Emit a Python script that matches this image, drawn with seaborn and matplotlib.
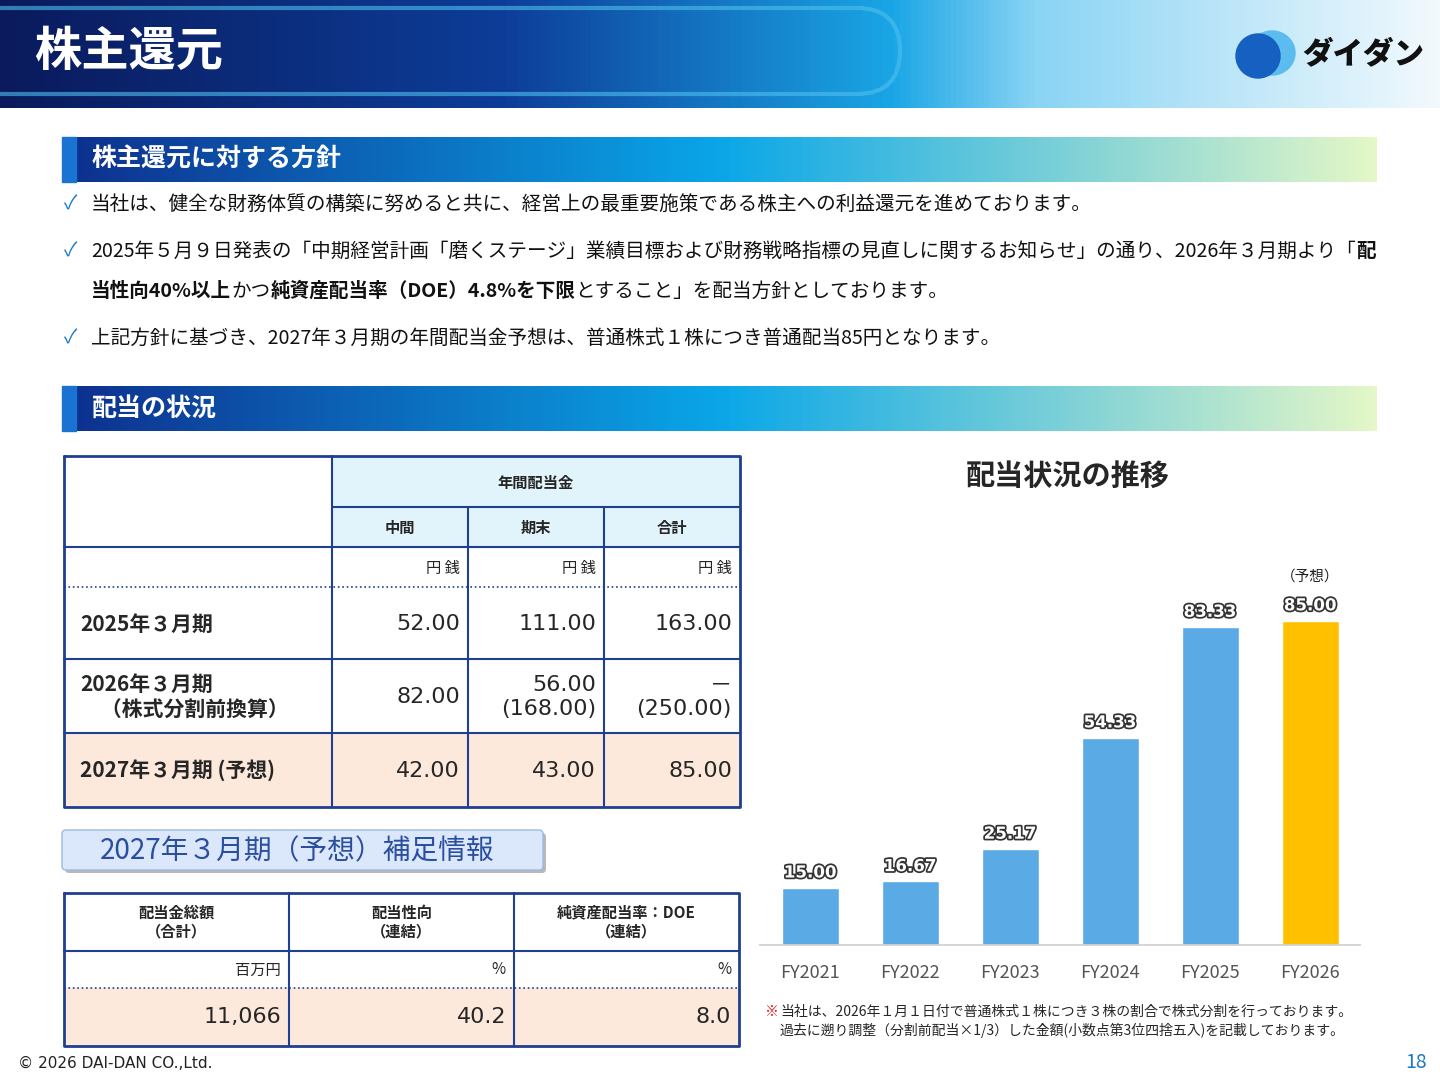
import matplotlib
matplotlib.use("Agg")
import matplotlib.pyplot as plt
import matplotlib.patheffects as pe
from matplotlib.colors import LinearSegmentedColormap
from matplotlib.patches import Rectangle, FancyBboxPatch, Ellipse
import numpy as np
import pandas as pd
import seaborn as sns

# data
fiscal_years = ["FY2021", "FY2022", "FY2023", "FY2024", "FY2025", "FY2026"]
dividends = [15.00, 16.67, 25.17, 54.33, 83.33, 85.00]
is_forecast = [False, False, False, False, False, True]

table_rows = ["2025年３月期", "2026年３月期\n　（株式分割前換算）", "2027年３月期 (予想)"]
interim = ["52.00", "82.00", "42.00"]
year_end = ["111.00", "56.00\n(168.00)", "43.00"]
total = ["163.00", "－\n(250.00)", "85.00"]

supp_headers = ["配当金総額\n（合計）", "配当性向\n（連結）", "純資産配当率：DOE\n（連結）"]
supp_units = ["百万円", "%", "%"]
supp_values = ["11,066", "40.2", "8.0"]

sns.set_theme(style="white")
plt.rcParams["font.family"] = ["Noto Sans CJK JP", "DejaVu Sans"]

fig = plt.figure(figsize=(14.4, 10.8), dpi=100)
ax = fig.add_axes([0, 0, 1, 1])
ax.set_xlim(0, 1440)
ax.set_ylim(1080, 0)
ax.axis("off")

def hgrad(x0, x1, y0, y1, colors, z=0):
    cmap = LinearSegmentedColormap.from_list("g", colors)
    ax.imshow(np.linspace(0, 1, 256)[None, :], cmap=cmap, aspect="auto",
              extent=(x0, x1, y1, y0), zorder=z)

# header
hgrad(0, 1440, 0, 108, [(0, "#0a1a5c"), (0.35, "#0d3d98"), (0.62, "#1aa6e6"),
                        (0.72, "#8ad4f4"), (1, "#f2f9fd")])
ax.add_patch(FancyBboxPatch((-40, 8), 940, 86, boxstyle="round,pad=0,rounding_size=43",
                            fc="none", ec="#4fc0f0", lw=3, alpha=0.6, zorder=1))
ax.text(34, 52, "株主還元", color="white", fontsize=34, fontweight="bold", va="center", zorder=2)
ax.add_patch(Ellipse((1272, 53), 46, 44, color="#5bbcf0", zorder=2))
ax.add_patch(Ellipse((1258, 56), 44, 44, color="#1560c0", zorder=3))
ax.text(1302, 54, "ダイダン", fontsize=22, fontweight="heavy", color="#111111", va="center", zorder=3)

def section(y, title):
    hgrad(62, 1377, y, y + 45, [(0, "#0e2f8e"), (0.5, "#0aa6e8"), (1, "#e4f7c8")])
    ax.add_patch(Rectangle((62, y), 14, 45, color="#1a73d0", zorder=1))
    ax.text(92, y + 23, title, color="white", fontsize=18, fontweight="bold", va="center", zorder=2)

section(137, "株主還元に対する方針")
section(386, "配当の状況")

renderer = fig.canvas.get_renderer()

def runs(x, y, parts, size=14.1):
    for s, bold in parts:
        t = ax.text(x, y, s, fontsize=size, fontweight="bold" if bold else "normal",
                    va="center", color="#111111")
        bb = t.get_window_extent(renderer)
        x += bb.width

check_kw = dict(color="#1f78c8", fontsize=14, va="center")
ax.text(64, 204, "✓", **check_kw)
runs(91, 204, [("当社は、健全な財務体質の構築に努めると共に、経営上の最重要施策である株主への利益還元を進めております。", False)])
ax.text(64, 251, "✓", **check_kw)
runs(91, 251, [("2025年５月９日発表の「中期経営計画「磨くステージ」業績目標および財務戦略指標の見直しに関するお知らせ」の通り、2026年３月期より「", False), ("配", True)])
runs(91, 291, [("当性向40%以上", True), ("かつ", False), ("純資産配当率（DOE）4.8%を下限", True), ("とすること」を配当方針としております。", False)])
ax.text(64, 338, "✓", **check_kw)
runs(91, 338, [("上記方針に基づき、2027年３月期の年間配当金予想は、普通株式１株につき普通配当85円となります。", False)])

# table 1
navy = "#1f3f8f"
cols = [64, 332, 468, 604, 740]
ax.add_patch(Rectangle((332, 456), 408, 91, color="#e2f4fb", zorder=0))
ax.add_patch(Rectangle((64, 733), 676, 74, color="#fce9dc", zorder=0))
ax.plot([64, 740, 740, 64, 64], [456, 456, 807, 807, 456], color=navy, lw=2)
ax.plot([332, 740], [507, 507], color=navy, lw=1.5)
for yy in [547, 659, 733]:
    ax.plot([64, 740], [yy, yy], color=navy, lw=1.5)
ax.plot([64, 740], [587, 587], color=navy, lw=1.2, ls=":")
ax.plot([332, 332], [456, 807], color=navy, lw=1.5)
for xx in cols[2:4]:
    ax.plot([xx, xx], [507, 807], color=navy, lw=1.5)
ax.text(536, 483, "年間配当金", fontsize=11, fontweight="bold", ha="center", va="center")
for i, h in enumerate(["中間", "期末", "合計"]):
    cx = (cols[i + 1] + cols[i + 2]) / 2
    ax.text(cx, 528, h, fontsize=11, fontweight="bold", ha="center", va="center")
    ax.text(cols[i + 2] - 8, 568, "円 銭", fontsize=11, ha="right", va="center")
row_y = [624, 697, 771]
for r in range(3):
    ax.text(80, row_y[r], table_rows[r], fontsize=15, fontweight="bold", va="center", linespacing=1.3)
    for i, v in enumerate([interim[r], year_end[r], total[r]]):
        ax.text(cols[i + 2] - 8, row_y[r], v, fontsize=16, ha="right", va="center",
                linespacing=1.2, family=["DejaVu Sans", "Noto Sans CJK JP"])

# supplementary label
ax.add_patch(FancyBboxPatch((65, 833), 481, 40, boxstyle="round,pad=0,rounding_size=4",
                            fc="#b8b8b8", ec="none", zorder=1))
ax.add_patch(FancyBboxPatch((62, 830), 481, 40, boxstyle="round,pad=0,rounding_size=4",
                            fc="#dbe8fb", ec="#9fb8e6", lw=1, zorder=2))
ax.text(100, 851, "2027年３月期（予想）補足情報", fontsize=20, color="#2a4ea0", va="center", zorder=3)

# table 2
c2 = [64, 289, 514, 739]
ax.add_patch(Rectangle((64, 988), 675, 58, color="#fce9dc", zorder=0))
ax.plot([64, 739, 739, 64, 64], [893, 893, 1046, 1046, 893], color=navy, lw=2)
ax.plot([64, 739], [951, 951], color=navy, lw=1.5)
ax.plot([64, 739], [988, 988], color=navy, lw=1.2, ls=":")
for xx in c2[1:3]:
    ax.plot([xx, xx], [893, 1046], color=navy, lw=1.5)
for i in range(3):
    cx = (c2[i] + c2[i + 1]) / 2
    ax.text(cx, 922, supp_headers[i], fontsize=11, fontweight="bold", ha="center", va="center", linespacing=1.2)
    ax.text(c2[i + 1] - 8, 970, supp_units[i], fontsize=11, ha="right", va="center")
    ax.text(c2[i + 1] - 8, 1017, supp_values[i], fontsize=16, ha="right", va="center",
            family=["DejaVu Sans", "Noto Sans CJK JP"])

# chart
ax.text(1068, 476, "配当状況の推移", fontsize=21, fontweight="bold", ha="center", va="center")
ymax = 95
bottom_px, top_px = 945, 945 - ymax * 3.816
cax = fig.add_axes([760 / 1440, 1 - bottom_px / 1080, 600 / 1440, (bottom_px - top_px) / 1080])
df = pd.DataFrame({"fy": fiscal_years, "div": dividends})
palette = ["#ffc000" if f else "#5aaae6" for f in is_forecast]
sns.barplot(data=df, x="fy", y="div", hue="fy", palette=palette, legend=False,
            width=0.57, saturation=1, ax=cax)
cax.set_ylim(0, ymax)
cax.set_xlabel("")
cax.set_ylabel("")
cax.set_yticks([])
cax.patch.set_alpha(0)
for s in ["top", "left", "right"]:
    cax.spines[s].set_visible(False)
cax.spines["bottom"].set_color("#d0d0d0")
cax.tick_params(axis="x", length=0, pad=14, labelsize=13, labelcolor="#555555")
for i, v in enumerate(dividends):
    cax.text(i, v + 4, f"{v:.2f}", ha="center", va="center", fontsize=12, color="white",
             fontweight="bold", family="DejaVu Sans",
             path_effects=[pe.withStroke(linewidth=2.5, foreground="#333333")])
    if is_forecast[i]:
        cax.text(i, v + 11.5, "（予想）", ha="center", va="center", fontsize=10.5, color="#222222")

ax.text(765, 1012, "※", color="#e02020", fontsize=10, va="center")
ax.text(780, 1012, "当社は、2026年１月１日付で普通株式１株につき３株の割合で株式分割を行っております。",
        fontsize=10, va="center")
ax.text(780, 1030, "過去に遡り調整（分割前配当×1/3）した金額(小数点第3位四捨五入)を記載しております。",
        fontsize=10, va="center")

ax.text(18, 1063, "© 2026 DAI-DAN CO.,Ltd.", fontsize=11, va="center", color="#222222",
        family="DejaVu Sans")
ax.text(1427, 1063, "18", fontsize=14, color="#1f78c8", ha="right", va="center")

fig.savefig("out.png", dpi=100)
